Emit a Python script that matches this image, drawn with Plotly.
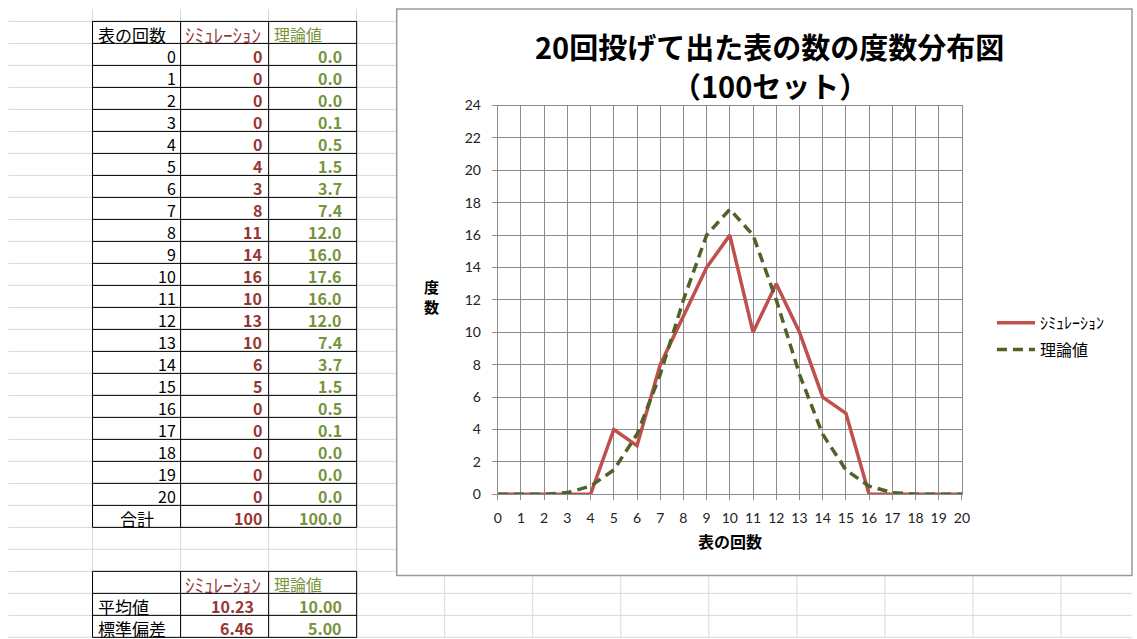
import plotly.graph_objects as go

# 20回投げて出た表の数: シミュレーション(100セット)と理論値
heads = list(range(21))
simulation = [0, 0, 0, 0, 0, 4, 3, 8, 11, 14, 16, 10, 13, 10, 6, 5, 0, 0, 0, 0, 0]
theory = [0.0, 0.0, 0.0, 0.1, 0.5, 1.5, 3.7, 7.4, 12.0, 16.0, 17.6,
          16.0, 12.0, 7.4, 3.7, 1.5, 0.5, 0.1, 0.0, 0.0, 0.0]

col_headers = ["表の回数", "ｼﾐｭﾚｰｼｮﾝ", "理論値"]
total_label = "合計"
stat_labels = ["平均値", "標準偏差"]
stat_simulation = [10.23, 6.46]
stat_theory = [10.00, 5.00]

title_lines = ["20回投げて出た表の数の度数分布図", "（100セット）"]
x_title = "表の回数"
y_title = "度数"

# ---- sheet geometry, in screen pixels ----
FW, FH = 1140, 646                 # figure size
OX, SX = 3.5, 0.989                # screen x = OX + SX * figure x
OY, SY = 9.6, 0.972                # screen y = OY + SY * figure y
ROW0, ROW_H = 22, 21.96            # sheet row grid
COL0, COL_W = 92, 88               # sheet column grid
N_SHEET_COLS = 12
N_SHEET_ROWS = 29

RED_TXT = "#953735"
GRN_TXT = "#77933c"
LINE_RED = "#c0504d"
LINE_GRN = "#4f6228"
SHEET_GRID = "#d9d9d9"
CHART_GRID = "#8c8c8c"
JP = "Noto Sans CJK JP"


def clamp(v):
    return min(1.0, max(0.0, v))


def px(x):
    return clamp((x - OX) / SX / FW)


def py(y):
    return clamp(1 - (y - OY) / SY / FH)


def row_y(k):
    return ROW0 + ROW_H * k


def col_x(k):
    return COL0 + COL_W * k


shapes = []
annotations = []


def hline(x0, x1, y, color, width=1):
    shapes.append(dict(type="line", xref="paper", yref="paper", layer="below",
                       x0=px(x0), x1=px(x1), y0=py(y), y1=py(y),
                       line=dict(color=color, width=width)))


def vline(x, y0, y1, color, width=1):
    shapes.append(dict(type="line", xref="paper", yref="paper", layer="below",
                       x0=px(x), x1=px(x), y0=py(y0), y1=py(y1),
                       line=dict(color=color, width=width)))


def cell_text(text, x, row, anchor, color="#000000", bold=False, size=16):
    annotations.append(dict(
        text=f"<b>{text}</b>" if bold else text,
        xref="paper", yref="paper", showarrow=False,
        x=px(x), y=py((row_y(row) + row_y(row + 1)) / 2 + 2),
        xanchor=anchor, yanchor="middle",
        font=dict(family=JP, size=size, color=color)))


# sheet background grid
for k in range(N_SHEET_ROWS):
    hline(8, 1137, row_y(k), SHEET_GRID)
for k in range(N_SHEET_COLS):
    vline(col_x(k), 0, 639, SHEET_GRID)

# chart area (white box over the sheet)
shapes.append(dict(type="rect", xref="paper", yref="paper", layer="below",
                   x0=px(396), x1=px(1131), y0=py(575), y1=py(5),
                   fillcolor="white", line=dict(color="#9a9a9a", width=1.5)))

# ---- frequency table ----
n_rows = len(heads) + 2
for k in range(n_rows + 1):
    hline(col_x(0), col_x(3), row_y(k), "#000000")
for c in range(4):
    vline(col_x(c), row_y(0), row_y(n_rows), "#000000")

cell_text(col_headers[0], col_x(0) + 3, 0, "left", size=17)
cell_text(col_headers[1], col_x(1) + 2, 0, "left", RED_TXT, size=19)
cell_text(col_headers[2], col_x(2) + 3, 0, "left", GRN_TXT, size=16)

right_edges = [col_x(1) - 3, col_x(2) - 5, col_x(3) - 13]
for i, h in enumerate(heads):
    r = i + 1
    cell_text(str(h), right_edges[0], r, "right")
    cell_text(str(simulation[i]), right_edges[1], r, "right", RED_TXT, bold=True)
    cell_text(f"{theory[i]:.1f}", right_edges[2], r, "right", GRN_TXT, bold=True)

r_tot = len(heads) + 1
cell_text(total_label, (col_x(0) + col_x(1)) / 2, r_tot, "center", size=17)
cell_text(str(sum(simulation)), right_edges[1], r_tot, "right", RED_TXT, bold=True)
cell_text(f"{sum(theory):.1f}", right_edges[2], r_tot, "right", GRN_TXT, bold=True)

# ---- summary statistics table ----
s0 = n_rows + 2
for k in range(s0, s0 + 4):
    hline(col_x(0), col_x(3), row_y(k), "#000000")
for c in range(4):
    vline(col_x(c), row_y(s0), row_y(s0 + 3), "#000000")

cell_text(col_headers[1], col_x(1) + 2, s0, "left", RED_TXT, size=19)
cell_text(col_headers[2], col_x(2) + 3, s0, "left", GRN_TXT, size=16)
for i, lab in enumerate(stat_labels):
    r = s0 + 1 + i
    cell_text(lab, col_x(0) + 3, r, "left", size=17)
    cell_text(f"{stat_simulation[i]:.2f}", col_x(2) - 13, r, "right", RED_TXT, bold=True)
    cell_text(f"{stat_theory[i]:.2f}", col_x(3) - 13, r, "right", GRN_TXT, bold=True)

# ---- chart titles ----
for text, y in zip(title_lines, [47, 85]):
    annotations.append(dict(text=f"<b>{text}</b>", xref="paper", yref="paper",
                            showarrow=False, x=px(769), y=py(y),
                            xanchor="center", yanchor="middle",
                            font=dict(family=JP, size=29, color="#000000")))
annotations.append(dict(text=f"<b>{x_title}</b>", xref="paper", yref="paper",
                        showarrow=False, x=px(729), y=py(541),
                        xanchor="center", yanchor="middle",
                        font=dict(family=JP, size=16, color="#000000")))
annotations.append(dict(text="<br>".join(f"<b>{ch}</b>" for ch in y_title),
                        xref="paper", yref="paper", showarrow=False,
                        x=px(431), y=py(297), xanchor="center", yanchor="middle",
                        font=dict(family=JP, size=15, color="#000000")))

fig = go.Figure()
fig.add_trace(go.Scatter(x=heads, y=simulation, mode="lines", name=col_headers[1],
                         legendgroup="sim",
                         line=dict(color=LINE_RED, width=3.5)))
fig.add_trace(go.Scatter(x=heads, y=theory, mode="lines", name=col_headers[2],
                         legendgroup="theo",
                         line=dict(color=LINE_GRN, width=3.5, dash="10px,6px")))

axis_common = dict(showgrid=True, gridcolor=CHART_GRID, gridwidth=1,
                   showline=True, linecolor=CHART_GRID, linewidth=1, mirror=True,
                   ticks="outside", ticklen=5, tickcolor=CHART_GRID,
                   zeroline=False, fixedrange=True,
                   tickfont=dict(family="Lato, " + JP, size=14, color="#222222"))

fig.update_layout(
    width=FW, height=FH,
    margin=dict(l=0, r=0, t=0, b=0),
    paper_bgcolor="white", plot_bgcolor="rgba(0,0,0,0)",
    showlegend=True,
    legend=dict(x=px(991), y=py(306), xanchor="left", yanchor="top",
                tracegroupgap=3, itemwidth=38,
                font=dict(family=JP, size=16, color="#000000"),
                bgcolor="rgba(0,0,0,0)"),
    xaxis=dict(domain=[px(497), px(961)], range=[0, 20], dtick=1, tick0=0,
               ticklabelstandoff=6, **axis_common),
    yaxis=dict(domain=[py(494), py(106)], range=[0, 24], dtick=2, tick0=0,
               ticklabelstandoff=8, **axis_common),
    shapes=shapes,
    annotations=annotations,
)

fig.write_html("out.html", config={"displayModeBar": False})
